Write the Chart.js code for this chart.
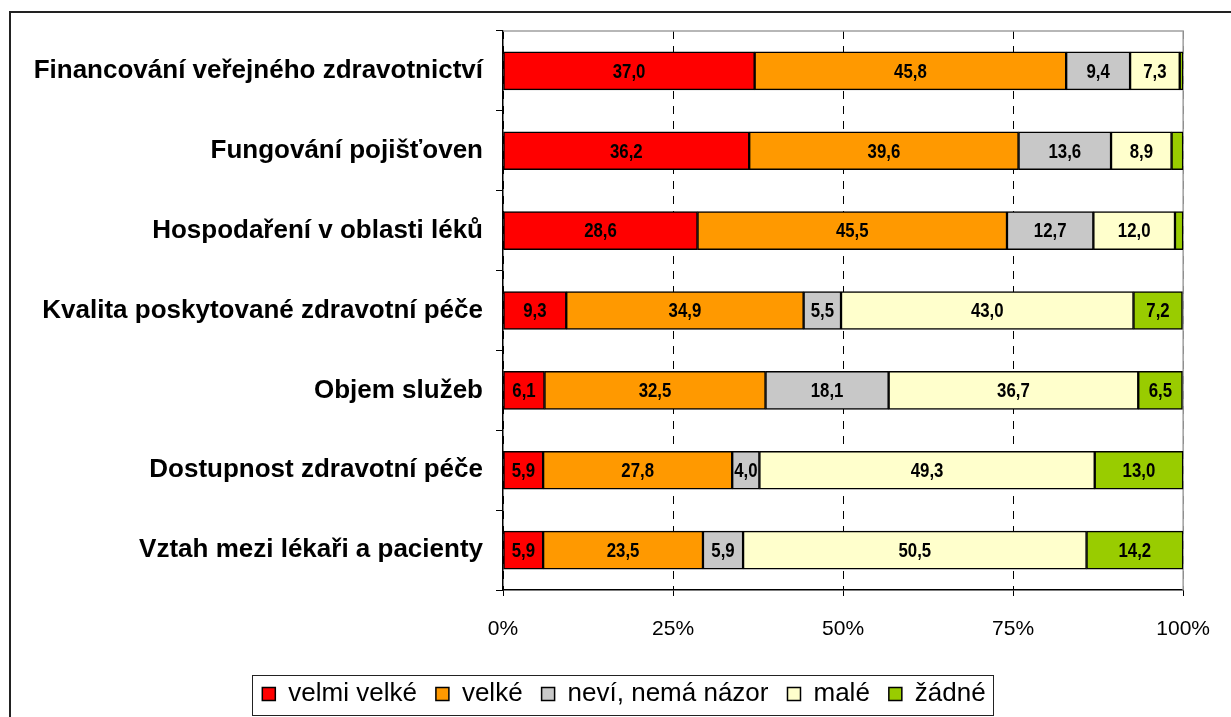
<!DOCTYPE html>
<html lang="cs">
  <head>
    <meta charset="UTF-8" />
    <title>Problémy zdravotnictví</title>
    <script src="https://cdn.jsdelivr.net/npm/chart.js@4.4.0/dist/chart.umd.min.js"></script>
    <style>
      body {
        margin: 0;
        background: #ffffff;
        overflow: hidden;
      }
      .frame {
        position: absolute;
        left: 9px;
        top: 11px;
        width: 1240px;
        height: 740px;
        border: 2px solid #222;
        box-sizing: border-box;
      }
      .wrap {
        position: absolute;
        left: 0;
        top: 0;
        width: 1231px;
        height: 717px;
      }
    </style>
  </head>
  <body>
    <div class="frame"></div>
    <div class="wrap"><canvas id="chart"></canvas></div>

    <script>
      // kategorie a hodnoty (%)
      const categories = [
        "Financování veřejného zdravotnictví",
        "Fungování pojišťoven",
        "Hospodaření v oblasti léků",
        "Kvalita poskytované zdravotní péče",
        "Objem služeb",
        "Dostupnost zdravotní péče",
        "Vztah mezi lékaři a pacienty",
      ];
      const velmiVelke = [37.0, 36.2, 28.6, 9.3, 6.1, 5.9, 5.9];
      const velke = [45.8, 39.6, 45.5, 34.9, 32.5, 27.8, 23.5];
      const nevi = [9.4, 13.6, 12.7, 5.5, 18.1, 4.0, 5.9];
      const male = [7.3, 8.9, 12.0, 43.0, 36.7, 49.3, 50.5];
      const zadne = [0.5, 1.7, 1.2, 7.2, 6.5, 13.0, 14.2];
      const xTicks = [0, 25, 50, 75, 100];

      const font = "'Liberation Sans', Arial, sans-serif";

      // popisky hodnot v segmentech (zúžené písmo)
      const valueLabels = {
        id: "valueLabels",
        afterDatasetsDraw(chart) {
          const ctx = chart.ctx;
          chart.data.datasets.forEach((ds, i) => {
            chart.getDatasetMeta(i).data.forEach((bar, j) => {
              const v = ds.data[j];
              if (v < 2) return;
              const p = bar.getProps(["x", "base", "y"], true);
              ctx.save();
              ctx.translate((p.x + p.base) / 2, p.y + 1);
              ctx.scale(0.8, 1);
              ctx.font = "bold 21px " + font;
              ctx.fillStyle = "#000";
              ctx.textAlign = "center";
              ctx.textBaseline = "middle";
              ctx.fillText(v.toFixed(1).replace(".", ","), 0, 0);
              ctx.restore();
            });
          });
        },
      };

      // horní a pravý okraj grafu + posun a rámeček legendy
      const frames = {
        id: "frames",
        beforeDraw(chart) {
          const lg = chart.legend;
          if (lg._shifted) return;
          const dx = 32;
          lg.left += dx;
          lg.right += dx;
          lg.legendHitBoxes.forEach((b) => (b.left += dx));
          lg._shifted = true;
        },
        beforeDatasetsDraw(chart) {
          const { ctx, chartArea: a } = chart;
          ctx.save();
          ctx.strokeStyle = "#a0a0a0";
          ctx.lineWidth = 1.5;
          ctx.beginPath();
          ctx.moveTo(a.left, a.top);
          ctx.lineTo(a.right, a.top);
          ctx.lineTo(a.right, a.bottom);
          ctx.stroke();
          ctx.restore();
        },
        afterDraw(chart) {
          const boxes = chart.legend.legendHitBoxes;
          if (!boxes.length) return;
          const ctx = chart.ctx;
          const l = boxes[0].left - 10;
          const last = boxes[boxes.length - 1];
          const r = last.left + last.width + 8;
          const t = boxes[0].top - 6;
          const b = boxes[0].top + boxes[0].height + 8;
          ctx.save();
          ctx.strokeStyle = "#222";
          ctx.lineWidth = 1;
          ctx.strokeRect(Math.round(l) + 0.5, Math.round(t) + 0.5, Math.round(r - l), Math.round(b - t));
          ctx.restore();
        },
      };

      const ds = (label, data, color) => ({
        label: label,
        data: data,
        backgroundColor: color,
        borderColor: "#000",
        borderWidth: 1.5,
        borderSkipped: false,
        barThickness: 38,
      });

      new Chart(document.getElementById("chart"), {
        type: "bar",
        data: {
          labels: categories,
          datasets: [
            ds("velmi velké", velmiVelke, "#ff0000"),
            ds("velké", velke, "#ff9900"),
            ds("neví, nemá názor", nevi, "#c8c8c8"),
            ds("malé", male, "#ffffcc"),
            ds("žádné", zadne, "#99cc00"),
          ],
        },
        options: {
          indexAxis: "y",
          responsive: true,
          maintainAspectRatio: false,
          animation: false,
          layout: { padding: { top: 31, right: 47, bottom: 0, left: 0 } },
          plugins: {
            tooltip: { enabled: false },
            legend: {
              position: "bottom",
              labels: {
                color: "#000",
                font: { family: font, size: 26 },
                boxWidth: 13,
                boxHeight: 13,
                padding: 19,
              },
            },
          },
          scales: {
            x: {
              stacked: true,
              min: 0,
              max: 100,
              afterBuildTicks(scale) {
                scale.ticks = xTicks.map((v) => ({ value: v }));
              },
              afterFit(scale) {
                scale.height = 72;
              },
              ticks: {
                color: "#000",
                font: { family: font, size: 21 },
                padding: 21,
                callback: (v) => v + "%",
              },
              grid: {
                color: "#000",
                lineWidth: 1,
                tickColor: "#000",
                tickLength: 6,
              },
              border: { color: "#000", width: 1.5, dash: [8, 7] },
            },
            y: {
              stacked: true,
              afterFit(scale) {
                scale.width = 503;
              },
              ticks: {
                color: "#000",
                font: { family: font, size: 26, weight: "bold" },
                padding: 13,
              },
              grid: {
                drawOnChartArea: false,
                color: "#000",
                tickLength: 7,
              },
              border: { color: "#000", width: 1.5 },
            },
          },
        },
        plugins: [valueLabels, frames],
      });
    </script>
  </body>
</html>
